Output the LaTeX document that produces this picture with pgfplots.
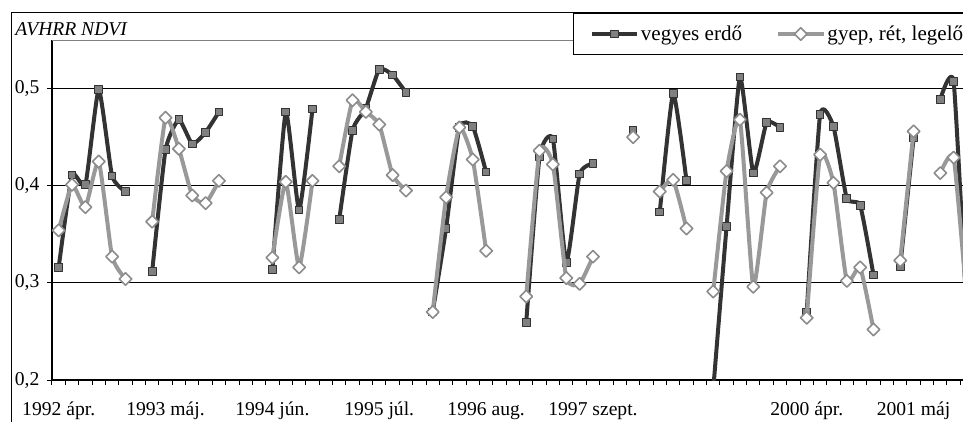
\documentclass[border=0pt]{standalone}
\usepackage{fontspec}
\setmainfont{Liberation Serif}
\usepackage{pgfplots}
\pgfplotsset{compat=1.18}
\usepackage{pgfplotstable}

\definecolor{darkser}{HTML}{333333}
\definecolor{sqfill}{HTML}{808080}
\definecolor{lightser}{HTML}{999999}
\definecolor{diaedge}{HTML}{8C8C8C}

\newcommand{\chartfont}{\fontsize{14.7}{17}\selectfont}
\newcommand{\legfont}{\fontsize{15.8}{18}\selectfont}

\pgfplotstableread{
cat dark light
0 0.316 0.354
1 0.411 0.401
2 0.401 0.378
3 0.499 0.425
4 0.410 0.327
5 0.394 0.304
6 nan nan
7 0.312 0.363
8 0.437 0.470
9 0.468 0.438
10 0.443 0.390
11 0.455 0.382
12 0.476 0.405
13 nan nan
14 nan nan
15 nan nan
16 0.314 0.326
17 0.476 0.404
18 0.375 0.316
19 0.479 0.405
20 nan nan
21 0.365 0.420
22 0.457 0.488
23 0.480 0.476
24 0.520 0.463
25 0.514 0.411
26 0.496 0.395
27 nan nan
28 0.270 0.270
29 0.356 0.388
30 0.460 0.460
31 0.461 0.427
32 0.414 0.333
33 nan nan
34 nan nan
35 0.259 0.286
36 0.430 0.436
37 0.448 0.422
38 0.321 0.305
39 0.412 0.299
40 0.423 0.327
41 nan nan
42 nan nan
43 0.457 0.450
44 nan nan
45 0.373 0.394
46 0.495 0.406
47 0.405 0.356
48 nan nan
49 0.190 0.291
50 0.358 0.415
51 0.512 0.468
52 0.413 0.296
53 0.465 0.393
54 0.460 0.420
55 nan nan
56 0.270 0.264
57 0.473 0.432
58 0.461 0.403
59 0.387 0.302
60 0.380 0.316
61 0.308 0.252
62 nan nan
63 0.317 0.323
64 0.449 0.456
65 nan nan
66 0.489 0.413
67 0.507 0.429
68 0.260 0.279
}\ndvi

\begin{document}
\begin{tikzpicture}
\begin{axis}[
  at={(39pt,-285pt)}, anchor=south west,
  width=683.25pt, height=255pt, scale only axis,
  xmin=-0.5, xmax=67.7, ymin=0.2, ymax=0.55,
  axis lines*=left,
  axis line style={black, line width=0.8pt},
  font=\chartfont,
  tick label style={font=\chartfont},
  tick align=outside,
  major tick length=3.75pt,
  tick style={black, line width=0.75pt},
  ytick={0.2,0.3,0.4,0.5},
  ymajorgrids,
  grid style={black, line width=0.75pt},
  yticklabel style={xshift=-2.2pt, /pgf/number format/.cd, use comma, fixed, fixed zerofill, precision=1, assume math mode=true},
  xtick={-0.5,0.5,...,67.5},
  xticklabels={},
  extra x ticks={0,8,16,24,32,40,56,64},
  extra x tick labels={1992 ápr.,1993 máj.,1994 jún.,1995 júl.,1996 aug.,1997 szept.,2000 ápr.,2001 máj},
  extra x tick style={tick style={draw=none}, xticklabel style={anchor=base, yshift=-23pt}},
  unbounded coords=jump,
  clip marker paths=true,
  legend columns=2,
  legend cell align=left,
  legend style={at={(0.572,1.079)}, anchor=north west, draw=black, line width=0.75pt,
    font=\legfont, inner xsep=12pt, inner ysep=7pt,
    nodes={inner xsep=1.5pt},
    /tikz/every even column/.append style={column sep=24pt}},
  legend image code/.code={\draw[mark repeat=2,mark phase=2] plot coordinates {(0pt,0pt) (17pt,0pt) (34pt,0pt)};},
]
\addplot[color=darkser, line width=3pt, line join=round, smooth, tension=0.3,
  mark=square*, mark size=2.9pt,
  mark options={fill=sqfill, draw=darkser, line width=0.75pt, solid}]
  table[x=cat, y=dark] {\ndvi};
\addlegendentry{vegyes erdő}
\addplot[color=lightser, line width=3pt, line join=round, smooth, tension=0.3,
  mark=square*, mark size=3.3pt,
  mark options={rotate=45, fill=white, draw=diaedge, line width=1.2pt, solid}]
  table[x=cat, y=light] {\ndvi};
\addlegendentry{gyep, rét, legelő}
\draw[color=gray, line width=0.75pt] (rel axis cs:0,1) -- (rel axis cs:1,1);
\end{axis}
\draw[black, line width=0.75pt] (8.25pt,-330pt) -- (8.25pt,-9pt) -- (740pt,-9pt);
\node[anchor=base west, font=\itshape\chartfont, inner sep=0pt] at (11.25pt,-26.25pt) {AVHRR NDVI};
\pgfresetboundingbox
\useasboundingbox (0,0) rectangle (722.25pt,-315.75pt);
\end{tikzpicture}
\end{document}
